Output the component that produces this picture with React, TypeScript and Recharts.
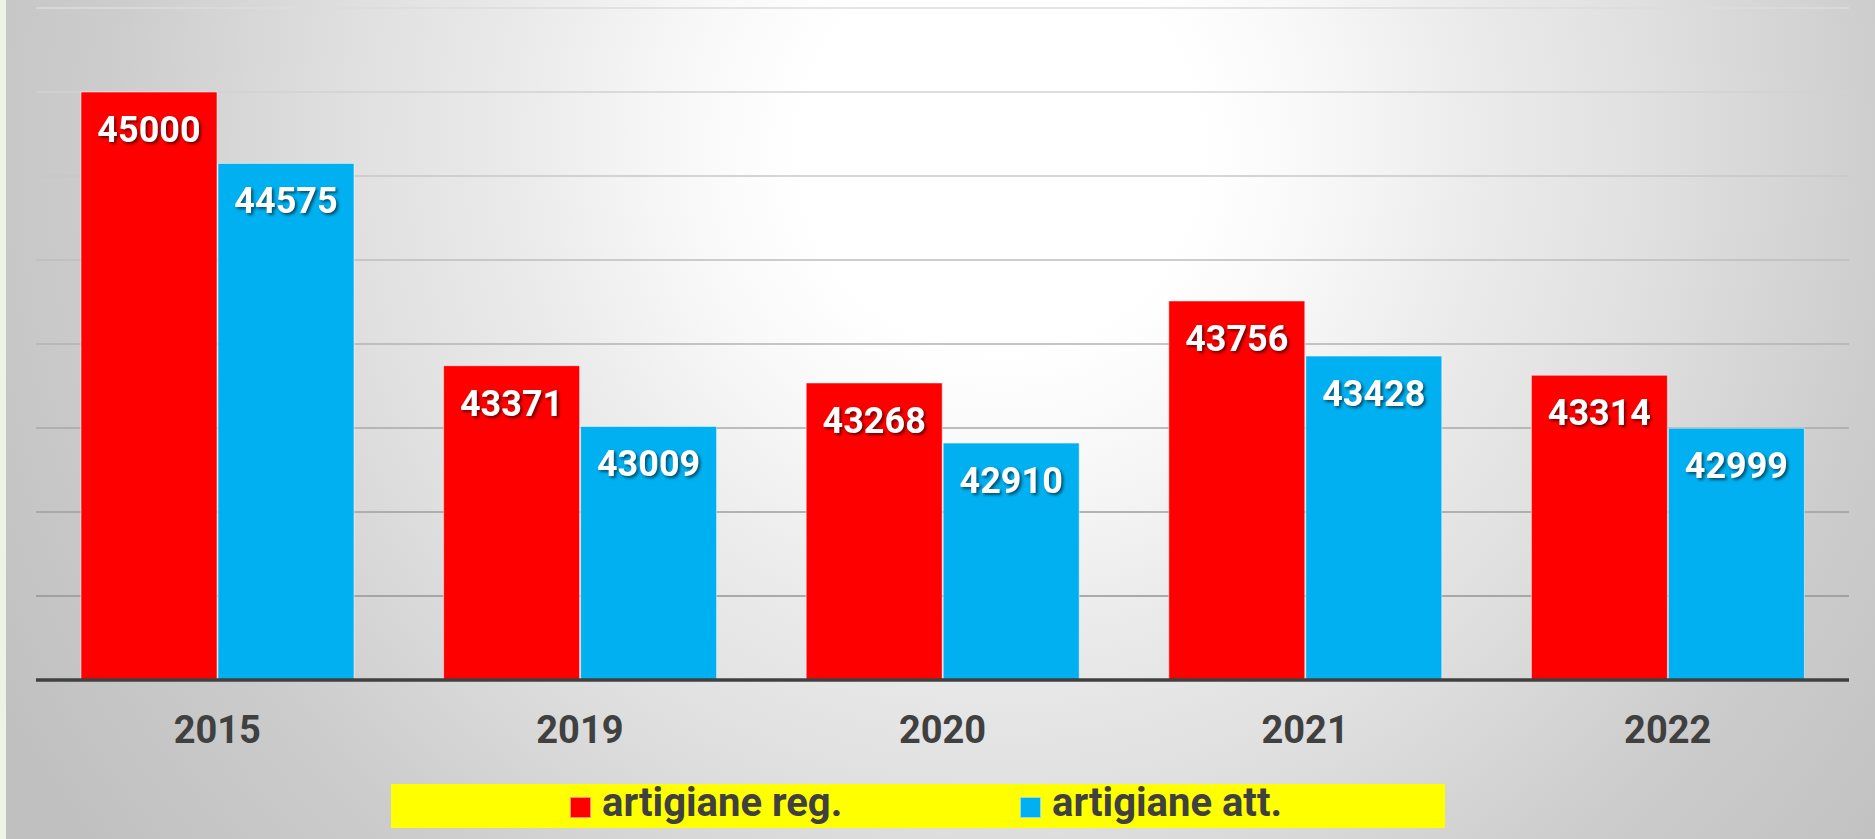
import React from 'react';
import { BarChart, Bar, XAxis, YAxis, CartesianGrid, Legend, LabelList } from 'recharts';

// categorie e valori
const years = ['2015', '2019', '2020', '2021', '2022'];
const artigianeReg = [45000, 43371, 43268, 43756, 43314];
const artigianeAtt = [44575, 43009, 42910, 43428, 42999];
const yTicks = [41500, 42000, 42500, 43000, 43500, 44000, 44500, 45000, 45500];
const seriesOrder = ['reg', 'att'];

const data = years.map((year, i) => ({
  year,
  reg: artigianeReg[i],
  att: artigianeAtt[i],
}));

const FONT = 'Roboto, "Noto Sans", sans-serif';
const TEXT_GREY = '#404040';

const BarValue = (props: any) => {
  const { x, y, width, value } = props;
  return (
    <text
      x={Number(x) + Number(width) / 2}
      y={Number(y) + 50}
      textAnchor="middle"
      fill="#ffffff"
      fontSize={36}
      fontWeight={700}
      fontFamily={FONT}
      style={{ filter: 'drop-shadow(2px 2px 1.5px rgba(0,0,0,0.55))' }}
    >
      {value}
    </text>
  );
};

const YearTick = (props: any) => {
  const { x, y, payload } = props;
  return (
    <text
      x={x}
      y={y + 63}
      textAnchor="middle"
      fill={TEXT_GREY}
      fontSize={38}
      fontWeight={700}
      fontFamily={FONT}
    >
      {payload.value}
    </text>
  );
};

const LegendBox = (props: any) => {
  const { payload = [] } = props;
  const items = [...payload].sort(
    (a: any, b: any) => seriesOrder.indexOf(a.dataKey) - seriesOrder.indexOf(b.dataKey)
  );
  return (
    <div
      style={{
        width: '100%',
        height: '100%',
        background: '#ffff00',
        display: 'flex',
        alignItems: 'center',
        paddingLeft: 179,
        boxSizing: 'border-box',
      }}
    >
      {items.map((entry: any) => (
        <div key={entry.value} style={{ width: 450, flexShrink: 0, display: 'flex', alignItems: 'center' }}>
          <span
            style={{
              display: 'inline-block',
              width: 21,
              height: 21,
              background: entry.color,
              border: '1px solid rgba(255,255,255,0.55)',
              boxSizing: 'border-box',
              marginRight: 11,
              position: 'relative',
              top: 1,
            }}
          />
          <span
            style={{
              fontFamily: FONT,
              fontWeight: 700,
              fontSize: 40,
              color: TEXT_GREY,
              lineHeight: '44px',
              position: 'relative',
              top: -3,
              whiteSpace: 'nowrap',
            }}
          >
            {entry.value}
          </span>
        </div>
      ))}
    </div>
  );
};

export default function App() {
  return (
    <div
      style={{
        position: 'absolute',
        left: 0,
        top: 0,
        width: 1875,
        height: 839,
        overflow: 'hidden',
        background:
          'radial-gradient(circle at 1000px 150px, #ffffff 0px, #ffffff 200px, #f8f8f8 320px, #ebebeb 480px, #e0e0e0 650px, #cccccc 900px, #c0c0c0 1150px)',
      }}
    >
      <div style={{ position: 'absolute', left: 0, top: 0, width: 6, height: 839, background: '#eef3e2' }} />
      <BarChart
        width={1875}
        height={839}
        data={data}
        margin={{ top: 8, right: 26, bottom: 0, left: 36 }}
        barCategoryGap={45}
        barGap={1}
      >
        <defs>
          <linearGradient id="gridFade" gradientUnits="userSpaceOnUse" x1="0" y1="8" x2="0" y2="680">
            <stop offset="0%" stopColor="#dcdcdc" />
            <stop offset="100%" stopColor="#8a8a8a" />
          </linearGradient>
        </defs>
        <CartesianGrid vertical={false} stroke="url(#gridFade)" strokeWidth={1.5} />
        <XAxis
          dataKey="year"
          height={159}
          tickLine={false}
          tickSize={0}
          tickMargin={0}
          axisLine={{ stroke: '#404040', strokeWidth: 3.5 }}
          tick={<YearTick />}
          interval={0}
        />
        <YAxis hide domain={[41500, 45500]} ticks={yTicks} allowDataOverflow />
        <Legend
          layout="horizontal"
          verticalAlign="middle"
          align="center"
          content={<LegendBox />}
          wrapperStyle={{ left: 391, top: 784, width: 1054, height: 44 }}
        />
        <Bar dataKey="reg" name="artigiane reg." fill="#ff0000" stroke="rgba(255,255,255,0.5)" strokeWidth={1} isAnimationActive={false}>
          <LabelList dataKey="reg" content={<BarValue />} />
        </Bar>
        <Bar dataKey="att" name="artigiane att." fill="#00b0f0" stroke="rgba(255,255,255,0.5)" strokeWidth={1} isAnimationActive={false}>
          <LabelList dataKey="att" content={<BarValue />} />
        </Bar>
      </BarChart>
    </div>
  );
}
